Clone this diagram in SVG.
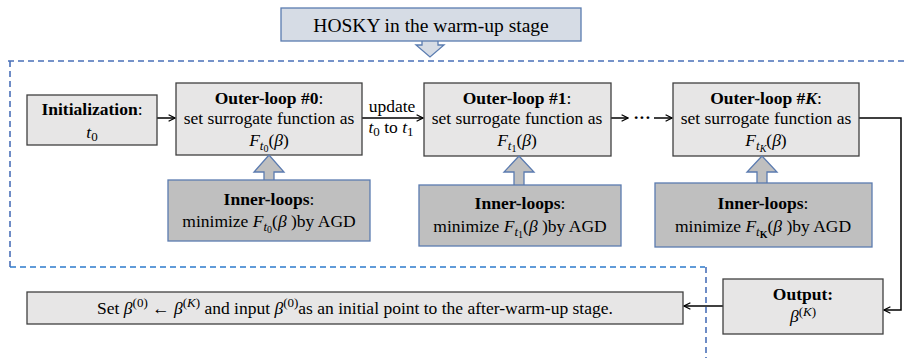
<svg xmlns="http://www.w3.org/2000/svg" width="907" height="358" viewBox="0 0 907 358" font-family="Liberation Serif, DejaVu Serif, serif">
<style>
text{font-family:"Liberation Serif","DejaVu Serif","Noto Serif",serif;font-size:17.5px;fill:#000}
.b{font-weight:bold}
.i{font-style:italic}
.s1{font-size:13px}
.s2{font-size:10px}
.outer{fill:#e7e6e6;stroke:#404040;stroke-width:1.3}
.inner{fill:#bfbfbf;stroke:#5b7bb0;stroke-width:1.3}
.blk{fill:#bfbfbf;stroke:#5b7bb0;stroke-width:1.3}
.conn{fill:none;stroke:#000;stroke-width:1.5}
.dash1{fill:none;stroke:#4a70b8;stroke-width:1.6;stroke-dasharray:6 4}
.dash2{fill:none;stroke:#2e7bcc;stroke-width:1.6;stroke-dasharray:6 4}
</style>
<defs>
<marker id="arr" viewBox="0 0 10 10" refX="9" refY="5" markerWidth="8" markerHeight="8" markerUnits="userSpaceOnUse" orient="auto">
<path d="M1,1 L9,5 L1,9" fill="none" stroke="#000" stroke-width="1.6"/>
</marker>
</defs>

<g id="boundary">
<path class="dash1" d="M8,61 H907"/>
<path class="dash1" d="M10,61 V267"/>
<path class="dash2" d="M10,267 H705"/>
<path class="dash1" d="M706,267 V358"/>
</g>

<g id="title">
<polygon points="422,40 422,45 416,45 430,57 444,45 438,45 438,40" fill="#d6dce5" stroke="#5a7cb0" stroke-width="1.3"/>
<rect x="281" y="8" width="300" height="33" fill="#d6dce5" stroke="#5a7cb0" stroke-width="1.3"/>
<text x="431" y="32" text-anchor="middle" style="font-size:19.5px">HOSKY in the warm-up stage</text>
</g>

<g id="connectors">
<path class="conn" d="M157,118 H175" marker-end="url(#arr)"/>
<path class="conn" d="M362,118 H423" marker-end="url(#arr)"/>
<path class="conn" d="M611,118 H628" marker-end="url(#arr)"/>
<path class="conn" d="M654,118 H672" marker-end="url(#arr)"/>
<path class="conn" d="M859,118 H901 V310 H884" marker-end="url(#arr)"/>
<path class="conn" d="M723,306 H684" marker-end="url(#arr)"/>
<text x="642" y="123" text-anchor="middle" class="b">···</text>
<text x="392" y="112" text-anchor="middle">update</text>
<text x="391" y="133" text-anchor="middle"><tspan class="i">t</tspan><tspan class="s1" dy="3">0</tspan><tspan dy="-3"> to </tspan><tspan class="i">t</tspan><tspan class="s1" dy="3">1</tspan></text>
</g>

<g id="init">
<rect class="outer" x="27" y="95" width="130" height="50"/>
<text x="92" y="115" text-anchor="middle"><tspan class="b">Initialization</tspan>:</text>
<text x="92" y="138" text-anchor="middle"><tspan class="i">t</tspan><tspan class="s1" dy="3">0</tspan></text>
</g>

<g id="outer0">
<rect class="outer" x="176" y="83" width="186" height="72"/>
<text x="269" y="104" text-anchor="middle"><tspan class="b">Outer-loop #0</tspan>:</text>
<text x="269" y="124" text-anchor="middle">set surrogate function as</text>
<text x="269" y="146" text-anchor="middle"><tspan class="i">F</tspan><tspan class="s1 i" dy="4">t</tspan><tspan class="s2" dy="2">0</tspan><tspan dy="-6">(</tspan><tspan class="i">β</tspan>)</text>
</g>

<g id="outer1">
<rect class="outer" x="424" y="83" width="187" height="73"/>
<text x="517" y="104" text-anchor="middle"><tspan class="b">Outer-loop #1</tspan>:</text>
<text x="517" y="124" text-anchor="middle">set surrogate function as</text>
<text x="517" y="146" text-anchor="middle"><tspan class="i">F</tspan><tspan class="s1 i" dy="4">t</tspan><tspan class="s2" dy="2">1</tspan><tspan dy="-6">(</tspan><tspan class="i">β</tspan>)</text>
</g>

<g id="outerK">
<rect class="outer" x="673" y="83" width="186" height="73"/>
<text x="766" y="104" text-anchor="middle"><tspan class="b">Outer-loop #</tspan><tspan class="b i">K</tspan>:</text>
<text x="766" y="124" text-anchor="middle">set surrogate function as</text>
<text x="766" y="146" text-anchor="middle"><tspan class="i">F</tspan><tspan class="s1 i" dy="4">t</tspan><tspan class="s2 i" dy="2">K</tspan><tspan dy="-6">(</tspan><tspan class="i">β</tspan>)</text>
</g>

<g id="inner0">
<polygon class="blk" points="264,181 264,172 254,172 269,155 284,172 274,172 274,181"/>
<rect class="inner" x="168" y="180" width="202" height="61"/>
<text x="269" y="205" text-anchor="middle"><tspan class="b">Inner-loops</tspan>:</text>
<text x="269" y="227" text-anchor="middle">minimize <tspan class="i">F</tspan><tspan class="s1 i" dy="4">t</tspan><tspan class="s2" dy="2">0</tspan><tspan dy="-6">(</tspan><tspan class="i">β</tspan> )by AGD</text>
</g>

<g id="inner1">
<polygon class="blk" points="514,186 514,172 504,172 519,156 534,172 524,172 524,186"/>
<rect class="inner" x="419" y="185" width="202" height="61"/>
<text x="520" y="209" text-anchor="middle"><tspan class="b">Inner-loops</tspan>:</text>
<text x="520" y="232" text-anchor="middle">minimize <tspan class="i">F</tspan><tspan class="s1 i" dy="4">t</tspan><tspan class="s2" dy="2">1</tspan><tspan dy="-6">(</tspan><tspan class="i">β</tspan> )by AGD</text>
</g>

<g id="innerK">
<polygon class="blk" points="757,184 757,172 747,172 762,156 777,172 767,172 767,184"/>
<rect class="inner" x="655" y="183" width="217" height="64"/>
<text x="763" y="209" text-anchor="middle"><tspan class="b">Inner-loops</tspan>:</text>
<text x="763" y="232" text-anchor="middle">minimize <tspan class="i">F</tspan><tspan class="s1 i" dy="4">t</tspan><tspan class="s2 b" dy="2">K</tspan><tspan dy="-6">(</tspan><tspan class="i">β</tspan> )by AGD</text>
</g>

<g id="output">
<rect class="outer" x="723" y="279" width="160" height="55"/>
<text x="803" y="300" text-anchor="middle" class="b">Output:</text>
<text x="803" y="322" text-anchor="middle"><tspan class="i">β</tspan><tspan class="s1" dy="-6">(</tspan><tspan class="s1 i">K</tspan><tspan class="s1">)</tspan></text>
</g>

<g id="set">
<rect class="outer" x="27" y="292" width="656" height="32"/>
<text x="355" y="314" text-anchor="middle">Set <tspan class="i">β</tspan><tspan class="s1" dy="-7">(0)</tspan><tspan dy="7"> ← </tspan><tspan class="i">β</tspan><tspan class="s1" dy="-7">(</tspan><tspan class="s1 i">K</tspan><tspan class="s1">)</tspan><tspan dy="7"> and input </tspan><tspan class="i">β</tspan><tspan class="s1" dy="-7">(0)</tspan><tspan dy="7">as an initial point to the after-warm-up stage.</tspan></text>
</g>
</svg>
